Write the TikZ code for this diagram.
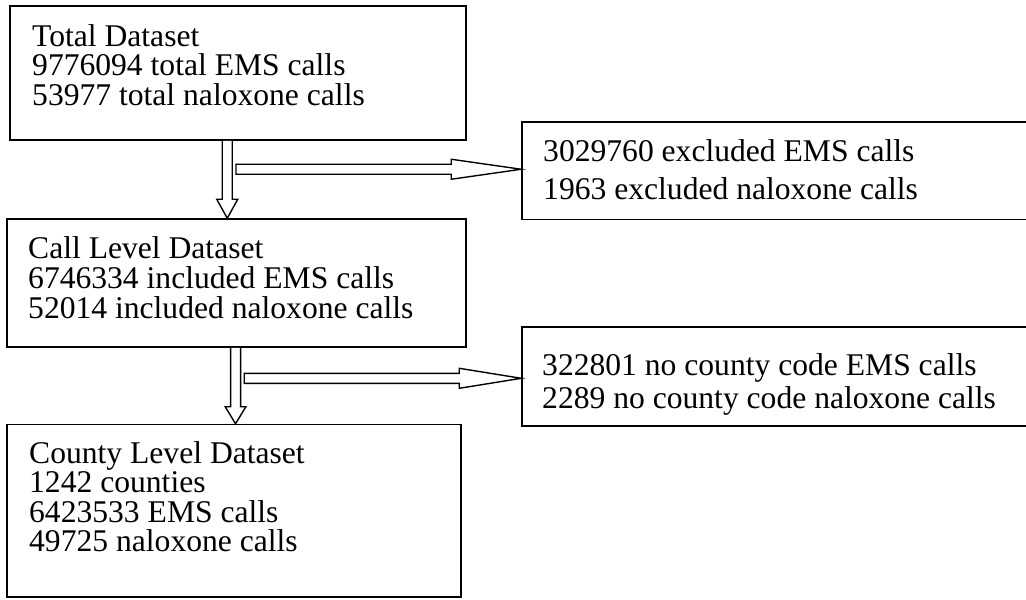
\documentclass[tikz,border=0pt]{standalone}
\usepackage{fontspec}
\setmainfont{Liberation Serif}
\usetikzlibrary{calc,fit}
\begin{document}
\begin{tikzpicture}[x=1pt,y=-1pt,
  stagebox/.style={draw=black, line width=1.5pt, inner sep=0pt, fit={#1}},
  txt/.style={anchor=base west, inner sep=0pt, font=\fontsize{31.6}{29.5}\selectfont},
  blockarrow/.style={draw=black, line width=1.4pt, fill=white, line join=miter}]
\useasboundingbox (0,0) rectangle (1026,600);

% flow boxes (the two exclusion boxes run past the right edge)
\node[stagebox={(10,6) (466,140)}] (total) {};
\node[stagebox={(7,219) (466,347)}] (call) {};
\node[stagebox={(7,424.5) (461,597)}] (county) {};
\node[stagebox={(522,122) (1034,219.5)}] (excl) {};
\node[stagebox={(522,327) (1034,426)}] (nocode) {};

% box texts
\node[txt] (totaltxt) at (32,46) {\vtop{\baselineskip=29.5pt
  \hbox{Total Dataset}\hbox{9776094 total EMS calls}\hbox{53977 total naloxone calls}}};
\node[txt] (calltxt) at (28,258.3) {\vtop{\baselineskip=30pt
  \hbox{Call Level Dataset}\hbox{6746334 included EMS calls}\hbox{52014 included naloxone calls}}};
\node[txt] (countytxt) at (29,463.3) {\vtop{\baselineskip=29.5pt
  \hbox{County Level Dataset}\hbox{1242 counties}\hbox{6423533 EMS calls}\hbox{49725 naloxone calls}}};
\node[txt] (excltxt) at (543,161) {\vtop{\baselineskip=38pt
  \hbox{3029760 excluded EMS calls}\hbox{1963 excluded naloxone calls}}};
\node[txt] (nocodetxt) at (542,375) {\vtop{\baselineskip=33pt
  \hbox{322801 no county code EMS calls}\hbox{2289 no county code naloxone calls}}};

% arrow end points
\coordinate (v1s) at ([xshift=218pt]total.south west);
\coordinate (v1t) at ([xshift=221pt]call.north west);
\coordinate (h1t) at ([yshift=1.5pt]excl.west);
\coordinate (h1s) at ($(v1s |- h1t)+(8.7,0)$);
\coordinate (v2s) at ([xshift=229.3pt]call.south west);
\coordinate (v2t) at ([xshift=229.3pt]county.north west);
\coordinate (h2t) at ([yshift=-1.8pt]nocode.west);
\coordinate (h2s) at ($(v2s |- h2t)+(8.7,0)$);

% hollow block arrows
\draw[blockarrow] ($(v1s)+(-5,0)$) -- ($(v1t)+(-5,-19)$) -- ($(v1t)+(-10.5,-19)$) -- (v1t)
  -- ($(v1t)+(10.5,-19)$) -- ($(v1t)+(5,-19)$) -- ($(v1s)+(5,0)$);
\draw[blockarrow] ($(h1s)+(0,-5)$) -- ($(h1t)+(-70,-5)$) -- ($(h1t)+(-70,-10)$) -- (h1t)
  -- ($(h1t)+(-70,10)$) -- ($(h1t)+(-70,5)$) -- ($(h1s)+(0,5)$) -- cycle;
\draw[blockarrow] ($(v2s)+(-5,0)$) -- ($(v2t)+(-5,-17)$) -- ($(v2t)+(-10.3,-17)$) -- (v2t)
  -- ($(v2t)+(10.3,-17)$) -- ($(v2t)+(5,-17)$) -- ($(v2s)+(5,0)$);
\draw[blockarrow] ($(h2s)+(0,-5)$) -- ($(h2t)+(-62,-5)$) -- ($(h2t)+(-62,-10)$) -- (h2t)
  -- ($(h2t)+(-62,10)$) -- ($(h2t)+(-62,5)$) -- ($(h2s)+(0,5)$) -- cycle;
\end{tikzpicture}
\end{document}
